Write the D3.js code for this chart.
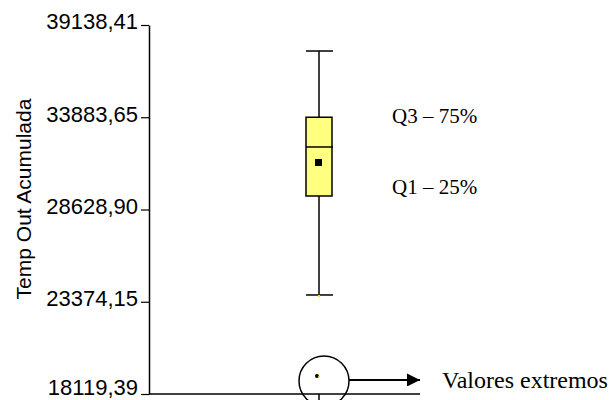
<!DOCTYPE html>
<html>
<head>
<meta charset="utf-8">
<script src="https://cdn.jsdelivr.net/npm/d3@7/dist/d3.min.js"></script>
<style>
  body { margin: 0; background: #fff; }
  svg { display: block; }
</style>
</head>
<body>
<div class="box"></div>
<script>
// 数据
var categories = ["Temp Out Acumulada"];
var tickValues = [18119.39, 23374.15, 28628.90, 33883.65, 39138.41];
var whiskerLow = [23760];
var q1 = [29398];
var median = [32190];
var mean = [31278];
var q3 = [33883.65];
var whiskerHigh = [37657];
var outliers = [19145];
var notes = ["Q3 – 75%", "Q1 – 25%", "Valores extremos"];

var W = 611, H = 400;

var svg = d3.select(".box").append("svg")
    .attr("width", W)
    .attr("height", H);

// 比例尺
var y = d3.scaleLinear()
    .domain([tickValues[0], tickValues[tickValues.length - 1]])
    .range([394, 25]);

var x = d3.scalePoint()
    .domain(categories)
    .range([319, 319]);

var fmt = function(d) { return d3.format(".2f")(d).replace(".", ","); };

// y轴
var yAxis = svg.append("g")
    .attr("transform", "translate(149,0)")
    .call(d3.axisLeft(y).tickValues(tickValues).tickFormat(fmt).tickSize(8).tickSizeOuter(0));
yAxis.select(".domain").attr("stroke", "#000").attr("stroke-width", 1.5);
yAxis.selectAll(".tick line").attr("stroke", "#000").attr("stroke-width", 1.2);
yAxis.selectAll(".tick text")
    .attr("x", -11)
    .attr("dy", function(d, i) { return i === 0 ? "0.02em" : "0.17em"; }) // 底部标签上移，避免被裁
    .attr("fill", "#000")
    .style("font-family", "Arial, 'Liberation Sans', sans-serif")
    .style("font-size", "22px");

// 底线
svg.append("line")
    .attr("x1", 149).attr("x2", 420)
    .attr("y1", y(tickValues[0])).attr("y2", y(tickValues[0]))
    .attr("stroke", "#000").attr("stroke-width", 1.5);

svg.append("line")
    .attr("x1", x(categories[0])).attr("x2", x(categories[0]))
    .attr("y1", y(tickValues[0])).attr("y2", y(tickValues[0]) + 8)
    .attr("stroke", "#000").attr("stroke-width", 1.5);

// y轴标题
svg.append("text")
    .attr("transform", "translate(31,199) rotate(-90)")
    .attr("text-anchor", "middle")
    .style("font-family", "Arial, 'Liberation Sans', sans-serif")
    .style("font-size", "21px")
    .text(categories[0]);

// 箱线
var g = svg.append("g");
var bw = 13;
categories.forEach(function(c, i) {
    var cx = x(c);
    g.append("line")
        .attr("x1", cx).attr("x2", cx)
        .attr("y1", y(whiskerHigh[i])).attr("y2", y(whiskerLow[i]))
        .attr("stroke", "#000").attr("stroke-width", 1.5);
    [whiskerHigh[i], whiskerLow[i]].forEach(function(v) {
        g.append("line")
            .attr("x1", cx - bw).attr("x2", cx + bw + 1)
            .attr("y1", y(v)).attr("y2", y(v))
            .attr("stroke", "#000").attr("stroke-width", 1.5);
    });
    g.append("rect")
        .attr("x", cx - bw).attr("width", bw * 2)
        .attr("y", y(q3[i])).attr("height", y(q1[i]) - y(q3[i]))
        .attr("fill", "#ffff80")
        .attr("stroke", "#000").attr("stroke-width", 1.5);
    g.append("line")
        .attr("x1", cx - bw).attr("x2", cx + bw + 1)
        .attr("y1", y(median[i])).attr("y2", y(median[i]))
        .attr("stroke", "#000").attr("stroke-width", 1.5);
    g.append("rect")
        .attr("x", cx - 4).attr("y", y(mean[i]) - 4)
        .attr("width", 7).attr("height", 7)
        .attr("fill", "#000");
    // 小黄点
    g.append("circle")
        .attr("cx", cx).attr("cy", y(whiskerLow[i]) + 1)
        .attr("r", 1.2).attr("fill", "#ffe000");
    outliers.forEach(function(v) {
        g.append("circle")
            .attr("cx", cx - 2).attr("cy", y(v))
            .attr("r", 2).attr("fill", "#000");
        g.append("circle")
            .attr("cx", cx).attr("cy", y(v) + 0.5)
            .attr("r", 1).attr("fill", "#ffe000");
    });
});

// 标注
var serif = "'Times New Roman', 'Liberation Serif', serif";
svg.append("text").attr("x", 392).attr("y", 123)
    .style("font-family", serif).style("font-size", "21px").text(notes[0]);
svg.append("text").attr("x", 392).attr("y", 194)
    .style("font-family", serif).style("font-size", "21px").text(notes[1]);

// 圆圈 + 箭头
svg.append("defs").append("marker")
    .attr("id", "arrow")
    .attr("viewBox", "0 -5 10 10")
    .attr("refX", 10).attr("refY", 0)
    .attr("markerWidth", 17).attr("markerHeight", 13)
    .attr("markerUnits", "userSpaceOnUse")
    .attr("orient", "auto")
    .append("path")
    .attr("d", "M0,-5L10,0L0,5Z")
    .attr("fill", "#000");

var oy = y(outliers[0]);
svg.append("circle")
    .attr("cx", 324).attr("cy", oy + 5)
    .attr("r", 25)
    .attr("fill", "none")
    .attr("stroke", "#000").attr("stroke-width", 1.5);
svg.append("line")
    .attr("x1", 349).attr("x2", 420)
    .attr("y1", oy + 4).attr("y2", oy + 4)
    .attr("stroke", "#000").attr("stroke-width", 2.2)
    .attr("marker-end", "url(#arrow)");
svg.append("text").attr("x", 442).attr("y", 388)
    .style("font-family", serif).style("font-size", "24px").text(notes[2]);
</script>
</body>
</html>
